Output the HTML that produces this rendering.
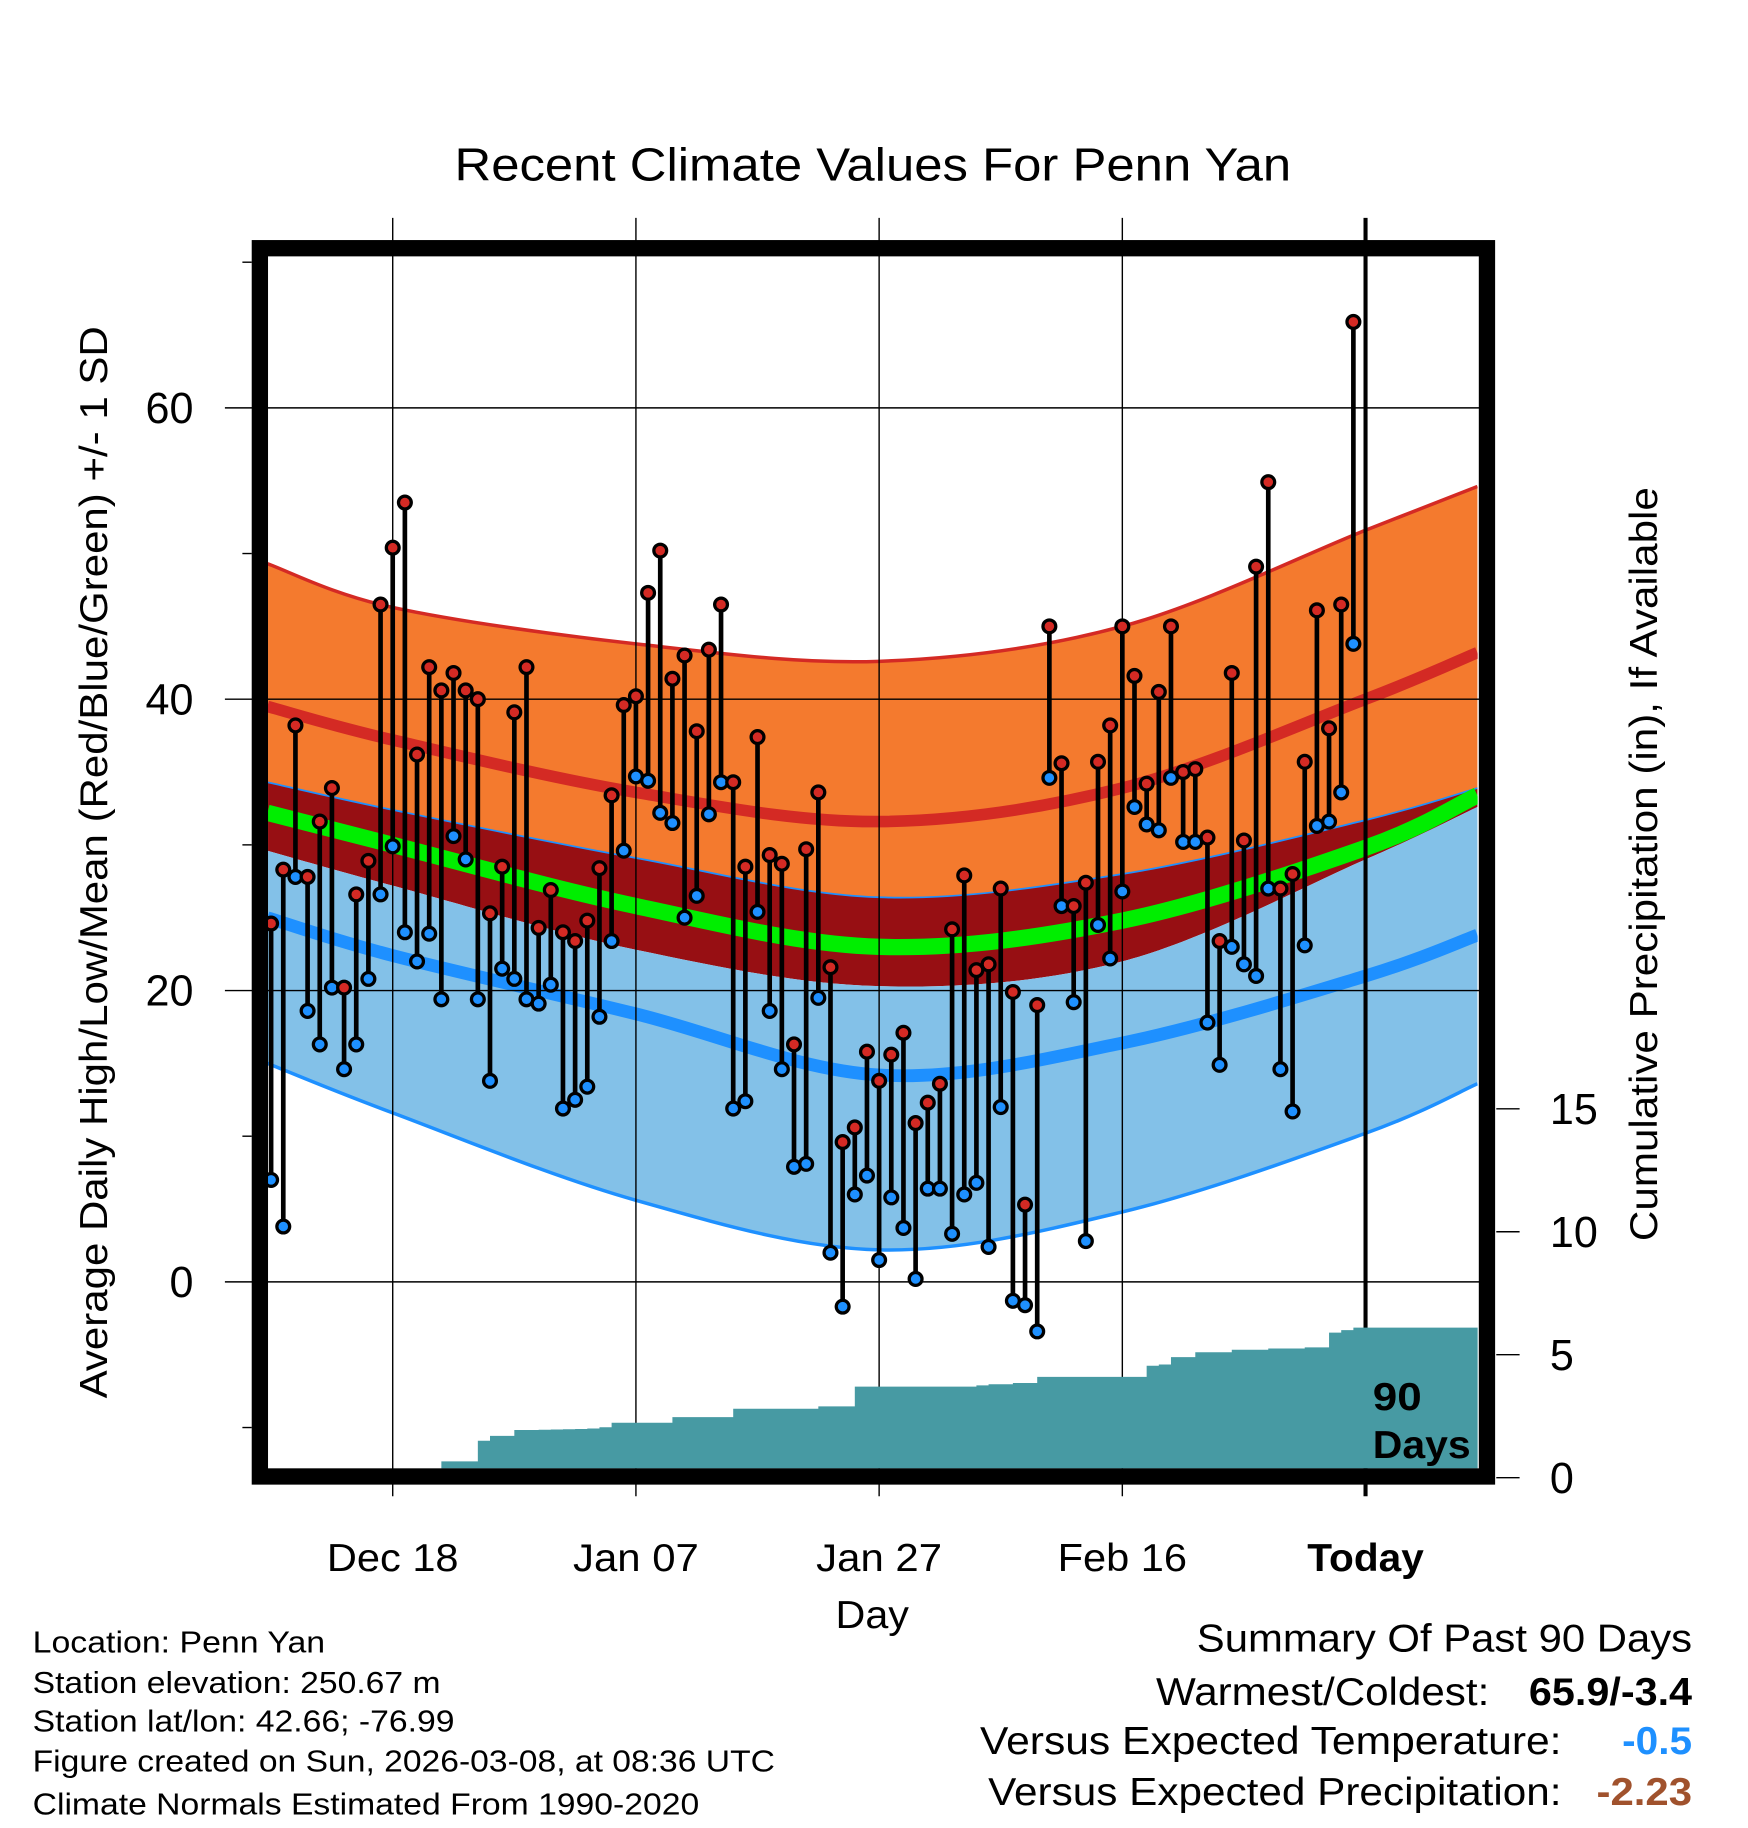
<!DOCTYPE html>
<html><head><meta charset="utf-8"><style>html,body{margin:0;padding:0;background:#fff}svg{display:block}text{font-family:"Liberation Sans",sans-serif}</style></head>
<body>
<svg id="chart" xmlns="http://www.w3.org/2000/svg" width="1748" height="1828" viewBox="0 0 1500 1568.65">
<defs><clipPath id="plotclip"><rect x="230" y="220" width="1038" height="1040"/></clipPath></defs>
<text x="390" y="155" font-size="40" textLength="718" lengthAdjust="spacingAndGlyphs">Recent Climate Values For Penn Yan</text>
<g id="bands" clip-path="url(#plotclip)"></g>
<g id="grid"></g>
<g id="precip" clip-path="url(#plotclip)"></g>
<g id="obs"></g>
<g id="axes"></g>
<rect x="223" y="213" width="1053" height="1054" fill="none" stroke="#000" stroke-width="14"/>
<text transform="translate(92,1200) rotate(-90)" font-size="33" textLength="920" lengthAdjust="spacingAndGlyphs">Average Daily High/Low/Mean (Red/Blue/Green) +/- 1 SD</text>
<text transform="translate(1422,1065) rotate(-90)" font-size="33" textLength="647" lengthAdjust="spacingAndGlyphs">Cumulative Precipitation (in), If Available</text>
<text x="717" y="1397" font-size="33" textLength="63" lengthAdjust="spacingAndGlyphs">Day</text>
<text x="1178" y="1210" font-size="33" font-weight="bold" textLength="42" lengthAdjust="spacingAndGlyphs">90</text>
<text x="1178" y="1251" font-size="33" font-weight="bold" textLength="84" lengthAdjust="spacingAndGlyphs">Days</text>
<g font-size="26.5">
<text x="28" y="1418" textLength="251" lengthAdjust="spacingAndGlyphs">Location: Penn Yan</text>
<text x="28" y="1453" textLength="350" lengthAdjust="spacingAndGlyphs">Station elevation: 250.67 m</text>
<text x="28" y="1486" textLength="362" lengthAdjust="spacingAndGlyphs">Station lat/lon: 42.66; -76.99</text>
<text x="28" y="1520" textLength="637" lengthAdjust="spacingAndGlyphs">Figure created on Sun, 2026-03-08, at 08:36 UTC</text>
<text x="28" y="1557" textLength="572" lengthAdjust="spacingAndGlyphs">Climate Normals Estimated From 1990-2020</text>
</g>
<g font-size="33">
<text x="1027" y="1417" textLength="425" lengthAdjust="spacingAndGlyphs">Summary Of Past 90 Days</text>
<text x="992" y="1463" textLength="286" lengthAdjust="spacingAndGlyphs">Warmest/Coldest:</text>
<text x="1312" y="1463" font-weight="bold" textLength="140" lengthAdjust="spacingAndGlyphs">65.9/-3.4</text>
<text x="841" y="1505" textLength="499" lengthAdjust="spacingAndGlyphs">Versus Expected Temperature:</text>
<text x="1392" y="1505" font-weight="bold" fill="#1e90ff" textLength="60" lengthAdjust="spacingAndGlyphs">-0.5</text>
<text x="848" y="1549" textLength="492" lengthAdjust="spacingAndGlyphs">Versus Expected Precipitation:</text>
<text x="1370" y="1549" font-weight="bold" fill="#a0522d" textLength="82" lengthAdjust="spacingAndGlyphs">-2.23</text>
</g>
</svg>
<script>
// ---- data ----
const highs = [24.6,28.3,38.2,27.8,31.6,33.9,20.2,26.6,28.9,46.5,50.4,53.5,36.2,42.2,40.6,41.8,40.6,40.0,25.3,28.5,39.1,42.2,24.3,26.9,24.0,23.4,24.8,28.4,33.4,39.6,40.2,47.3,50.2,41.4,43.0,37.8,43.4,46.5,34.3,28.5,37.4,29.3,28.7,16.3,29.7,33.6,21.6,9.6,10.6,15.8,13.8,15.6,17.1,10.9,12.3,13.6,24.2,27.9,21.4,21.8,27.0,19.9,5.3,19.0,45.0,35.6,25.8,27.4,35.7,38.2,45.0,41.6,34.2,40.5,45.0,35.0,35.2,30.5,23.4,41.8,30.3,49.1,54.9,27.0,28.0,35.7,46.1,38.0,46.5,65.9];
const lows = [7.0,3.8,27.8,18.6,16.3,20.2,14.6,16.3,20.8,26.6,29.9,24.0,22.0,23.9,19.4,30.6,29.0,19.4,13.8,21.5,20.8,19.4,19.1,20.4,11.9,12.5,13.4,18.2,23.4,29.6,34.7,34.4,32.2,31.5,25.0,26.5,32.1,34.3,11.9,12.4,25.4,18.6,14.6,7.9,8.1,19.5,2.0,-1.7,6.0,7.3,1.5,5.8,3.7,0.2,6.4,6.4,3.3,6.0,6.8,2.4,12.0,-1.3,-1.6,-3.4,34.6,25.8,19.2,2.8,24.5,22.2,26.8,32.6,31.4,31.0,34.6,30.2,30.2,17.8,14.9,23.0,21.8,21.0,27.0,14.6,11.7,23.1,31.3,31.6,33.6,43.8];
const precipCum = [0,0,0,0,0,0,0,0,0,0,0,0,0,0,0.66,0.66,0.66,1.5,1.7,1.7,1.94,1.94,1.95,1.96,1.97,1.98,2.0,2.05,2.23,2.23,2.23,2.23,2.23,2.46,2.46,2.46,2.46,2.46,2.8,2.8,2.8,2.8,2.8,2.8,2.8,2.9,2.9,2.9,3.7,3.7,3.7,3.7,3.7,3.7,3.7,3.7,3.7,3.7,3.75,3.8,3.8,3.85,3.85,4.1,4.1,4.1,4.1,4.1,4.1,4.1,4.1,4.1,4.55,4.6,4.9,4.9,5.1,5.1,5.1,5.2,5.2,5.2,5.25,5.25,5.25,5.3,5.3,5.9,6.0,6.1];
const normDays = [-10.3,0,20,40,60,80,89.2];
const highPlusSD = [49.3,46.3,43.8,42.6,45.0,51.6,54.6];
const meanHigh = [39.5,37.2,33.6,31.6,33.9,40.0,43.2];
const highMinusSD = [34.3,32.4,29.1,26.4,28.0,31.7,33.9];
const meanAvg = [32.2,30.0,25.8,23.0,24.8,29.8,33.4];
const lowPlusSD = [29.6,27.2,22.8,20.3,22.0,29.0,32.6];
const meanLow = [25.0,22.4,18.4,14.2,16.4,21.0,23.8];
const lowMinusSD = [15.0,11.6,5.6,2.2,4.8,10.2,13.6];
const xTickDays = [0,20,40,60,80];
const xTickLabels = ["Dec 18","Jan 07","Jan 27","Feb 16","Today"];
const xTickWidths = [113,108,108,111,100];
const yTicks = [0,20,40,60];
const yMinor = [-10,10,30,50,70];
const y2Ticks = [0,5,10,15];
const firstDay = -10;

const X = d => 337 + d*10.435;
const Y = v => 1100 - v*12.5;
const Y2 = p => 1268 - p*21.1;
const NS = "http://www.w3.org/2000/svg";
function mk(tag, parent, attrs){const e=document.createElementNS(NS,tag);for(const k in attrs)e.setAttribute(k,attrs[k]);parent.appendChild(e);return e;}

function pts(arr){return normDays.map((d,i)=>[X(d),Y(arr[i])]);}
function spline(p){let s="";for(let i=0;i<p.length-1;i++){const p0=p[Math.max(0,i-1)],p1=p[i],p2=p[i+1],p3=p[Math.min(p.length-1,i+2)];
 const c1=[p1[0]+(p2[0]-p0[0])/6,p1[1]+(p2[1]-p0[1])/6],c2=[p2[0]-(p3[0]-p1[0])/6,p2[1]-(p3[1]-p1[1])/6];
 s+=(i===0?"M"+p1[0]+","+p1[1]:"")+" C"+c1+" "+c2+" "+p2;}return s;}
function band(top,bot){const a=pts(top),b=pts(bot).reverse();return spline(a)+" L"+b[0]+spline(b).replace(/^M[^ ]+/,"")+" Z";}

const bands=document.getElementById('bands');
let e;
e=mk('path',bands,{d:band(highPlusSD,highMinusSD),fill:'#f47a2e'});


e=mk('path',bands,{d:band(highMinusSD,lowPlusSD),fill:'#970f13'});


e=mk('path',bands,{d:band(lowPlusSD,lowMinusSD),fill:'#83c1e8'});


e=mk('path',bands,{d:spline(pts(highPlusSD)),fill:'none',stroke:'#d42a24','stroke-width':3});


e=mk('path',bands,{d:spline(pts(meanHigh)),fill:'none',stroke:'#d42a24','stroke-width':10});


e=mk('path',bands,{d:spline(pts(highMinusSD)),fill:'none',stroke:'#1e90ff','stroke-width':1.5});


e=mk('path',bands,{d:spline(pts(meanAvg)),fill:'none',stroke:'#00ee00','stroke-width':14});


e=mk('path',bands,{d:spline(pts(meanLow)),fill:'none',stroke:'#1e90ff','stroke-width':11});


e=mk('path',bands,{d:spline(pts(lowMinusSD)),fill:'none',stroke:'#1e90ff','stroke-width':3});



const grid=document.getElementById('grid');
xTickDays.forEach((d,i)=>{
 e=mk('line',grid,{x1:X(d),x2:X(d),y1:187,y2:1284,stroke:'#000','stroke-width':i===4?3.5:1.2});
 
 
});
yTicks.forEach(v=>{
 e=mk('line',grid,{x1:193,x2:1276,y1:Y(v),y2:Y(v),stroke:'#000','stroke-width':1.2});
 
 
});

const pg=document.getElementById('precip');
let pd="M"+X(firstDay)+","+Y2(0);
precipCum.forEach((p,i)=>{const x0=X(firstDay+i),x1=(i===precipCum.length-1)?1280:X(firstDay+i+1);pd+=" L"+x0+","+Y2(p)+" L"+x1+","+Y2(p);});
pd+=" L1280,"+Y2(0)+" Z";
e=mk('path',pg,{d:pd,fill:'#479aa3'});



const og=document.getElementById('obs');
highs.forEach((h,i)=>{
 const x=X(firstDay+i);
 e=mk('line',og,{x1:x,x2:x,y1:Y(h),y2:Y(lows[i]),stroke:'#000','stroke-width':4});
 
 
 e=mk('circle',og,{cx:x,cy:Y(h),r:5.5,fill:'#d42a24',stroke:'#000','stroke-width':2.8});
 
 
 e=mk('circle',og,{cx:x,cy:Y(lows[i]),r:5.5,fill:'#1e90ff',stroke:'#000','stroke-width':2.8});
 
 
});

const ax=document.getElementById('axes');
yTicks.forEach(v=>{
 e=mk('text',ax,{x:166,y:Y(v)+13,'font-size':37,'text-anchor':'end'});e.textContent=v;
 
 
});
yMinor.forEach(v=>{
 e=mk('line',ax,{x1:208,x2:216,y1:Y(v),y2:Y(v),stroke:'#000','stroke-width':1.2});
 
 
});
y2Ticks.forEach(p=>{
 e=mk('line',ax,{x1:1284,x2:1304,y1:Y2(p),y2:Y2(p),stroke:'#000','stroke-width':1.2});
 
 
 e=mk('text',ax,{x:1330,y:Y2(p)+13,'font-size':37});e.textContent=p;
 
 
});
xTickDays.forEach((d,i)=>{
 e=mk('text',ax,{x:X(d)-xTickWidths[i]/2,y:1348,'font-size':33,'font-weight':i===4?'bold':'normal',textLength:xTickWidths[i],lengthAdjust:'spacingAndGlyphs'});e.textContent=xTickLabels[i];
 
 
});
</script>
</body></html>
